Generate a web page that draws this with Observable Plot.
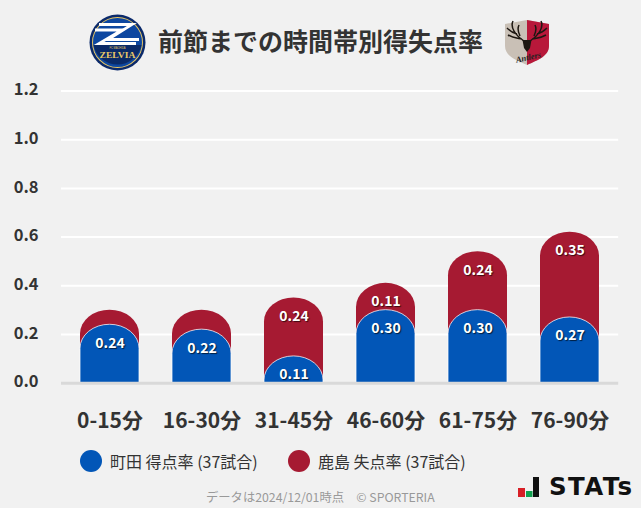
<!DOCTYPE html>
<html><head><meta charset="utf-8">
<script src="https://cdn.jsdelivr.net/npm/d3@7"></script>
<script src="https://cdn.jsdelivr.net/npm/@observablehq/plot@0.6"></script>
<style>
html,body{margin:0;padding:0;background:#f1f1f1;}
body{width:641px;height:508px;position:relative;overflow:hidden;font-family:"Noto Sans CJK JP","Noto Sans",sans-serif;color:#333;}
#chart{position:absolute;left:0;top:0;}
.abs{position:absolute;white-space:nowrap;}
#title{left:158px;top:20px;font-size:25px;font-weight:700;line-height:40px;color:#333;}
.leg{top:447px;font-size:16px;line-height:28px;color:#333;}
.dot{position:absolute;width:22px;height:22px;border-radius:50%;top:450px;}
#foot{left:206px;top:487px;font-size:12.3px;line-height:20px;color:#999;}
.val text{text-shadow:1px 1px 1px rgba(0,0,0,.65);}
</style></head><body>
<div id="chart"></div>
<svg class="abs" style="left:89px;top:14px" width="57" height="57" viewBox="0 0 57 57">
<circle cx="28.5" cy="28.5" r="28" fill="#0b2a6b"/><circle cx="28.5" cy="28.5" r="25.5" fill="#e8c766"/><circle cx="28.5" cy="28.5" r="24.5" fill="#0d47a0"/>
<path d="M4.5 31 H52.5 A24.5 24.5 0 0 1 4.5 31Z" fill="#0a2a68"/>
<path d="M10 10.5 H43 L19 25.5 H50" stroke="#fff" stroke-width="2.8" fill="none"/>
<path d="M6 16 H33 L10 29.5 H47" stroke="#fff" stroke-width="2.8" fill="none"/>
<text x="28.5" y="44" text-anchor="middle" font-family="Liberation Serif" font-weight="700" font-size="8.5" fill="#e8c766" textLength="36" lengthAdjust="spacingAndGlyphs">ZELVIA</text>
<text x="28.5" y="35" text-anchor="middle" font-family="Liberation Sans" font-size="2.6" fill="#e8c766">FC MACHIDA</text>
</svg>
<svg class="abs" style="left:504px;top:18px" width="46" height="48" viewBox="0 0 46 48">
<path d="M1 6 L23 2 L45 6 L45 28 C45 38 34 42 23 47 C12 42 1 38 1 28Z" fill="#c9c0b6"/>
<path d="M23 2 L45 6 L45 28 C45 38 34 42 23 47Z" fill="#b8183a"/>
<path d="M9 3 C6 9 11 17 20 23 M3 10 C6 13 9 15 13 16 M15 7 C13 11 14 14 16 18 M4 17 C9 20 13 20 18 21 M37 3 C40 9 35 17 26 23 M43 10 C40 13 37 15 33 16 M31 7 C33 11 32 14 30 18 M42 17 C37 20 33 20 28 21" stroke="#1d1712" stroke-width="1.5" fill="none"/>
<path d="M18.5 22 L27.5 22 L26 30 L23 34 L20 30Z" fill="#1d1712"/>
<text x="25" y="42" text-anchor="middle" font-family="Liberation Serif" font-style="italic" font-weight="700" font-size="8.5" fill="#222" transform="rotate(-12 25 42)">Antlers</text>
</svg>
<div class="abs" id="title">前節までの時間帯別得失点率</div>
<div class="dot" style="left:80px;background:#0256b7"></div>
<div class="abs leg" style="left:110px">町田 得点率 (37試合)</div>
<div class="dot" style="left:288px;background:#a61a32"></div>
<div class="abs leg" style="left:318px">鹿島 失点率 (37試合)</div>
<div class="abs" id="foot">データは2024/12/01時点　© SPORTERIA</div>
<svg class="abs" style="left:517px;top:476px" width="24" height="22" viewBox="0 0 24 22">
<rect x="1" y="12" width="7" height="9" fill="#d81f26"/><rect x="9" y="15" width="6.5" height="6" fill="#12a150"/><rect x="16" y="1" width="6" height="20" fill="#111"/>
</svg>
<div class="abs" style="left:549px;top:472px;font-family:'DejaVu Sans',sans-serif;font-weight:700;font-size:24.5px;line-height:30px;color:#111;letter-spacing:1.4px">STATs</div>
<script>
const periods = ["0-15分","16-30分","31-45分","46-60分","61-75分","76-90分"];
const machidaFor = [0.24,0.22,0.11,0.30,0.30,0.27];
const kashimaAgainst = [0.06,0.08,0.24,0.11,0.24,0.35];
const redLabels = ["","","0.24","0.11","0.24","0.35"];
const yTicks = [0,0.2,0.4,0.6,0.8,1.0,1.2];

const rows = periods.map((period,i)=>({
  period, blue:machidaFor[i], red:kashimaAgainst[i],
  total:machidaFor[i]+kashimaAgainst[i], redLabel:redLabels[i]
}));
const below = -0.2;
const fmt = d3.format(".2f");

const chart = Plot.plot({
  width:641, height:440,
  marginLeft:63.6, marginRight:25.4, marginTop:90.5, marginBottom:57.3,
  style:{background:"transparent",fontFamily:'"Noto Sans CJK JP","Noto Sans",sans-serif',overflow:"visible"},
  x:{domain:periods,paddingInner:0.36,paddingOuter:0.18,label:null},
  y:{domain:[0,1.2],label:null},
  marks:[
    Plot.ruleY(yTicks.filter(d=>d>0),{stroke:"#fff",strokeWidth:2,insetLeft:-2.6,insetRight:-2.6}),
    Plot.barY(rows,{x:"period",y1:()=>below,y2:"total",fill:"#a61a32",rx:29.5,ry:24,clip:"frame"}),
    Plot.barY(rows,{x:"period",y1:()=>below,y2:"blue",fill:"#0256b7",stroke:"#fff",strokeOpacity:0.75,strokeWidth:1,rx:29.5,ry:24,clip:"frame"}),
    Plot.ruleY([0],{stroke:"#d9d9d9",strokeWidth:3,insetLeft:-2.6,insetRight:-2.6}),
    Plot.text(rows,{x:"period",y:"blue",text:d=>fmt(d.blue),dy:18.5,fill:"#fff",fontSize:14,fontWeight:700,className:"val"}),
    Plot.text(rows,{x:"period",y:"total",text:"redLabel",dy:18.5,fill:"#fff",fontSize:14,fontWeight:700,className:"val"}),
    Plot.axisY({ticks:yTicks,tickSize:0,tickPadding:0,tickFormat:d3.format(".1f"),fontSize:16.5,fontWeight:700,fill:"#333",label:null,marginLeft:38,dx:-25.6,dy:-1}),
    Plot.axisX({tickSize:0,tickPadding:0,fontSize:21,fontWeight:700,fill:"#333",label:null,dy:30})
  ]
});
document.getElementById("chart").append(chart);
</script>
</body></html>
